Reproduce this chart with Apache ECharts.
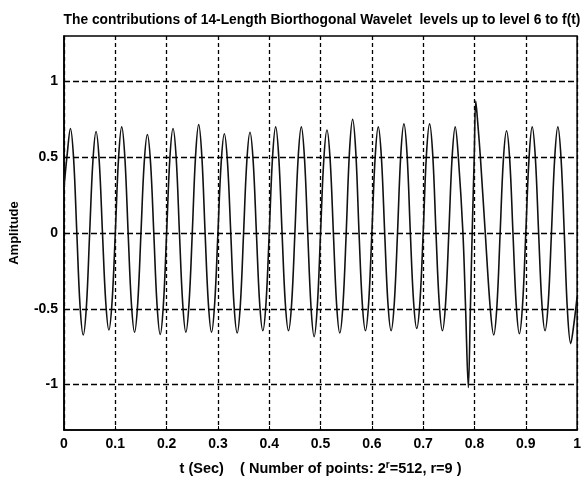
<!DOCTYPE html>
<html>
<head>
<meta charset="utf-8">
<script src="https://cdn.jsdelivr.net/npm/echarts@6/dist/echarts.min.js"></script>
<style>
html,body{margin:0;padding:0;background:#fff;}
#chart{width:584px;height:481px;}
</style>
</head>
<body>
<div id="chart"></div>
<script>
// Sample times (s) and amplitudes
var time = [
  0, 0.00625, 0.0125, 0.01875, 0.025, 0.03125, 0.0375, 0.04375,
  0.05, 0.05625, 0.0625, 0.06875, 0.075, 0.08125, 0.0875, 0.09375,
  0.10, 0.10625, 0.1125, 0.11875, 0.125, 0.13125, 0.1375, 0.14375,
  0.15, 0.15625, 0.1625, 0.16875, 0.175, 0.18125, 0.1875, 0.19375,
  0.20, 0.20625, 0.2125, 0.21875, 0.225, 0.23125, 0.2375, 0.24375,
  0.25, 0.25625, 0.2625, 0.26875, 0.275, 0.28125, 0.2875, 0.29375,
  0.30, 0.30625, 0.3125, 0.31875, 0.325, 0.33125, 0.3375, 0.34375,
  0.35, 0.35625, 0.3625, 0.36875, 0.375, 0.38125, 0.3875, 0.39375,
  0.40, 0.40625, 0.4125, 0.41875, 0.425, 0.43125, 0.4375, 0.44375,
  0.45, 0.45625, 0.4625, 0.46875, 0.475, 0.48125, 0.4875, 0.49375,
  0.50, 0.50625, 0.5125, 0.51875, 0.525, 0.53125, 0.5375, 0.54375,
  0.55, 0.55625, 0.5625, 0.56875, 0.575, 0.58125, 0.5875, 0.59375,
  0.60, 0.60625, 0.6125, 0.61875, 0.625, 0.63125, 0.6375, 0.64375,
  0.65, 0.65625, 0.6625, 0.66875, 0.675, 0.68125, 0.6875, 0.69375,
  0.70, 0.70625, 0.7125, 0.71875, 0.725, 0.73125, 0.7375, 0.74375,
  0.75, 0.75625, 0.7625, 0.76875, 0.7775, 0.7827, 0.788, 0.792,
  0.7955, 0.7995, 0.8025, 0.8065, 0.8115, 0.821, 0.8308, 0.8375, 0.84375,
  0.85, 0.85625, 0.8625, 0.86875, 0.875, 0.88125, 0.8875, 0.89375,
  0.90, 0.90625, 0.9125, 0.91875, 0.925, 0.93125, 0.9375, 0.94375,
  0.95, 0.95625, 0.9625, 0.96875, 0.975, 0.98125, 0.9875, 0.99375,
  1.0
];
var amplitude = [
  0.30, 0.52, 0.69, 0.49, 0, -0.48, -0.673, -0.48,
  0, 0.47, 0.67, 0.47, 0, -0.45, -0.64, -0.45,
  0, 0.49, 0.70, 0.49, 0, -0.46, -0.655, -0.46,
  0, 0.46, 0.65, 0.46, 0, -0.47, -0.67, -0.47,
  0, 0.49, 0.69, 0.49, 0, -0.46, -0.655, -0.46,
  0, 0.50, 0.715, 0.50, 0, -0.46, -0.655, -0.46,
  0, 0.46, 0.655, 0.46, 0, -0.47, -0.66, -0.47,
  0, 0.47, 0.665, 0.47, 0, -0.46, -0.645, -0.46,
  0, 0.49, 0.70, 0.49, 0, -0.46, -0.645, -0.46,
  0, 0.49, 0.70, 0.49, 0, -0.48, -0.684, -0.48,
  0, 0.48, 0.68, 0.48, 0, -0.47, -0.66, -0.47,
  0, 0.53, 0.75, 0.53, 0, -0.46, -0.645, -0.46,
  0, 0.49, 0.70, 0.49, 0, -0.46, -0.645, -0.46,
  0, 0.51, 0.72, 0.51, 0, -0.45, -0.63, -0.45,
  0, 0.51, 0.72, 0.51, 0, -0.46, -0.645, -0.46,
  0, 0.49, 0.70, 0.49, 0, -0.50, -1.02, -0.50,
  0, 0.50, 0.87, 0.72, 0.50, 0, -0.50, -0.673, -0.48,
  0, 0.48, 0.675, 0.48, 0, -0.47, -0.665, -0.47,
  0, 0.49, 0.70, 0.49, 0, -0.46, -0.645, -0.46,
  0, 0.49, 0.70, 0.49, 0, -0.52, -0.73, -0.60,
  -0.42
];
var xTicks = [0, 0.1, 0.2, 0.3, 0.4, 0.5, 0.6, 0.7, 0.8, 0.9, 1];
var yTicks = [-1, -0.5, 0, 0.5, 1];

var points = time.map(function (t, i) { return [t, amplitude[i]]; });
var FONT = 'Liberation Sans';

var chart = echarts.init(document.getElementById('chart'), null, {renderer: 'canvas'});
chart.setOption({
  animation: false,
  backgroundColor: '#ffffff',
  title: {
    text: 'The contributions of 14-Length Biorthogonal Wavelet  levels up to level 6 to f(t)',
    left: 317, top: 8, textAlign: 'center',
    textStyle: {fontFamily: FONT, fontWeight: 'bold', fontSize: 13.8, color: '#000'}
  },
  grid: {
    left: 63, top: 36, right: 2, bottom: 49,
    show: true, borderColor: '#000', borderWidth: 1.5, backgroundColor: '#fff'
  },
  xAxis: {
    type: 'value', min: 0, max: 1, interval: 0.1,
    name: '{a|t (Sec)    ( Number of points: 2}{s|r}{a|=512, r=9 )}',
    nameLocation: 'middle', nameGap: 30,
    nameTextStyle: {
      rich: {
        a: {fontFamily: FONT, fontWeight: 'bold', fontSize: 14.5, color: '#000'},
        s: {fontFamily: FONT, fontWeight: 'bold', fontSize: 10, color: '#000', verticalAlign: 'top', padding: [0, 0, 7, 0]}
      }
    },
    axisLine: {show: true, onZero: false, lineStyle: {color: '#000', width: 1.5}},
    axisTick: {show: true, inside: true, length: 4, lineStyle: {color: '#000'}},
    axisLabel: {
      margin: 7, color: '#000', fontFamily: FONT, fontWeight: 'bold', fontSize: 14,
      formatter: function (v) { return xTicks.indexOf(Math.round(v * 10) / 10) >= 0 ? String(Math.round(v * 10) / 10) : ''; }
    },
    splitLine: {show: true, lineStyle: {color: '#000', type: [4, 3], width: 1.3}}
  },
  yAxis: {
    type: 'value', min: -1.3, max: 1.3,
    name: 'Amplitude', nameLocation: 'middle', nameGap: 43, nameRotate: 90,
    nameTextStyle: {fontFamily: FONT, fontWeight: 'bold', fontSize: 13, color: '#000'},
    axisLine: {show: true, onZero: false, lineStyle: {color: '#000', width: 1.5}},
    axisTick: {show: true, inside: true, length: 4, customValues: yTicks, lineStyle: {color: '#000'}},
    axisLabel: {
      customValues: yTicks, margin: 6, color: '#000', fontFamily: FONT, fontWeight: 'bold', fontSize: 14
    },
    splitLine: {show: false}
  },
  series: [
    {
      type: 'line',
      data: points,
      showSymbol: false,
      smooth: 0.35,
      lineStyle: {color: '#111', width: 1.6},
      markLine: {
        silent: true, symbol: 'none', label: {show: false},
        lineStyle: {color: '#000', type: [6, 3], width: 1.3},
        data: yTicks.map(function (v) { return {yAxis: v}; })
      },
      z: 3
    }
  ]
});
</script>
</body>
</html>
